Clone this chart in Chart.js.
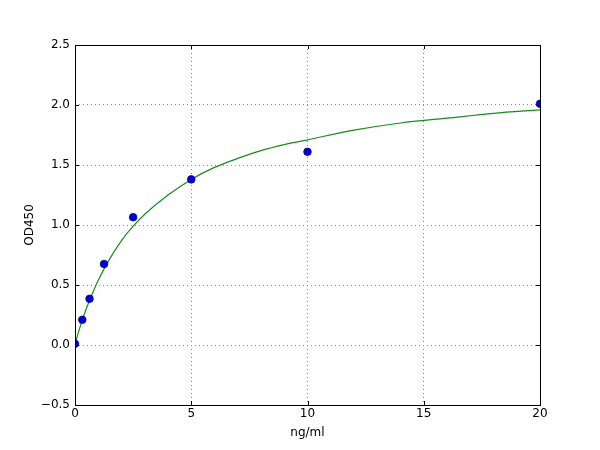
<!DOCTYPE html>
<html>
<head>
<meta charset="utf-8">
<script src="https://cdn.jsdelivr.net/npm/chart.js@4.4.1/dist/chart.umd.min.js"></script>
<style>
html,body{margin:0;padding:0;background:#fff;}
#wrap{width:600px;height:450px;}
</style>
</head>
<body>
<div id="wrap"><canvas id="c" width="600" height="450"></canvas></div>
<script>
// measured standards
const stdConc = [0, 0.3125, 0.625, 1.25, 2.5, 5, 10, 20];
const stdOD = [0.01, 0.21, 0.385, 0.675, 1.065, 1.38, 1.61, 2.01];
// fitted curve
const curveConc = [0, 0.25, 0.5, 0.75, 1, 1.5, 2, 2.5, 3, 4, 5, 6, 7, 8, 9, 10, 12, 14, 16, 18, 20];
const curveOD = [0.01, 0.17, 0.31, 0.43, 0.54, 0.72, 0.87, 0.99, 1.09, 1.25, 1.38, 1.48, 1.555, 1.62, 1.67, 1.71, 1.79, 1.85, 1.89, 1.93, 1.96];
const xTicks = [0, 5, 10, 15, 20];
const yTicks = [-0.5, 0, 0.5, 1.0, 1.5, 2.0, 2.5];
const xTitle = 'ng/ml';
const yTitle = 'OD450';

const FONT = 'DejaVu Sans';

const framePlugin = {
  id: 'frame',
  afterDatasetsDraw(chart) {
    const a = chart.chartArea, ctx = chart.ctx;
    ctx.save();
    ctx.strokeStyle = '#000';
    ctx.lineWidth = 1;
    ctx.setLineDash([]);
    ctx.strokeRect(Math.round(a.left) + 0.5, Math.round(a.top) + 0.5, Math.round(a.right - a.left), Math.round(a.bottom - a.top));
    const xs = chart.scales.x, ys = chart.scales.y;
    ctx.beginPath();
    xTicks.forEach(v => {
      const px = Math.round(xs.getPixelForValue(v)) + 0.5;
      ctx.moveTo(px, a.bottom); ctx.lineTo(px, a.bottom - 4);
      ctx.moveTo(px, a.top); ctx.lineTo(px, a.top + 4);
    });
    yTicks.forEach(v => {
      const py = Math.round(ys.getPixelForValue(v)) + 0.5;
      ctx.moveTo(a.left, py); ctx.lineTo(a.left + 4, py);
      ctx.moveTo(a.right, py); ctx.lineTo(a.right - 4, py);
    });
    ctx.stroke();
    ctx.restore();
  }
};

new Chart(document.getElementById('c'), {
  type: 'scatter',
  data: {
    datasets: [
      {
        label: 'fit',
        data: curveConc.map((x, i) => ({x: x, y: curveOD[i]})),
        showLine: true,
        borderColor: '#1a8a1a',
        borderWidth: 1.2,
        pointRadius: 0,
        cubicInterpolationMode: 'monotone',
        fill: false,
        clip: 0,
        order: 2
      },
      {
        label: 'standards',
        data: stdConc.map((x, i) => ({x: x, y: stdOD[i]})),
        showLine: false,
        pointRadius: 3.8,
        pointBackgroundColor: '#0000e0',
        pointBorderColor: '#00008b',
        pointBorderWidth: 0.8,
        clip: 0,
        order: 1
      }
    ]
  },
  options: {
    responsive: false,
    animation: false,
    devicePixelRatio: 1,
    layout: {padding: {left: 0, right: 60, top: 45, bottom: 0}},
    plugins: {legend: {display: false}, tooltip: {enabled: false}},
    scales: {
      x: {
        type: 'linear',
        min: 0, max: 20,
        afterBuildTicks(s) { s.ticks = xTicks.map(v => ({value: v})); },
        afterFit(s) { s.height = 45; },
        ticks: {
          color: '#000',
          font: {family: FONT, size: 12},
          padding: 2,
          maxRotation: 0,
          callback: v => String(v)
        },
        grid: {color: '#888', lineWidth: 1, drawTicks: false},
        border: {display: false, dash: [1, 3]},
        title: {display: true, text: xTitle, color: '#000', font: {family: FONT, size: 12}, padding: {top: 0, bottom: 10}}
      },
      y: {
        type: 'linear',
        min: -0.5, max: 2.5,
        afterBuildTicks(s) { s.ticks = yTicks.map(v => ({value: v})); },
        afterFit(s) { s.width = 75; },
        ticks: {
          color: '#000',
          font: {family: FONT, size: 12},
          padding: 5,
          callback: v => v.toFixed(1).replace('-', '\u2212')
        },
        grid: {color: '#888', lineWidth: 1, drawTicks: false},
        border: {display: false, dash: [1, 3]},
        title: {display: true, text: yTitle, color: '#000', font: {family: FONT, size: 12}, padding: {top: 23, bottom: 0}}
      }
    }
  },
  plugins: [framePlugin]
});
</script>
</body>
</html>
